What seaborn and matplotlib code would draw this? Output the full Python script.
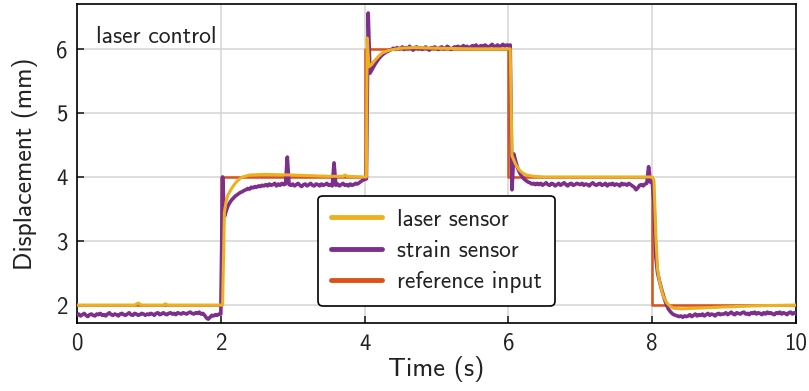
import numpy as np
import pandas as pd
import matplotlib
matplotlib.use("Agg")
import matplotlib.pyplot as plt
import seaborn as sns

# ---------------- data ----------------
reference_t = [0, 2, 2, 4, 4, 6, 6, 8, 8, 10]
reference_v = [2, 2, 4, 4, 6, 6, 4, 4, 2, 2]

laser_t = [0, 0.8, 0.85, 0.9, 1.2, 1.23, 1.26, 2.025, 2.05, 2.075, 2.1, 2.15, 2.2,
           2.25, 2.3, 2.4, 2.6, 3.0, 3.5, 3.7, 3.73, 3.76, 4.0, 4.025, 4.035, 4.06,
           4.1, 4.15, 4.2, 4.25, 4.35, 4.5, 4.7, 5.0, 5.5, 6.0, 6.025, 6.05, 6.1,
           6.15, 6.2, 6.25, 6.35, 6.5, 7.0, 7.5, 8.0, 8.025, 8.05, 8.075, 8.1, 8.15,
           8.2, 8.25, 8.3, 8.4, 8.6, 9.0, 9.5, 10.0]
laser_v = [2.0, 2.0, 2.03, 2.0, 2.0, 2.02, 2.0, 2.0, 3.45, 3.62, 3.72, 3.82, 3.90,
           3.96, 4.00, 4.03, 4.04, 4.03, 4.01, 4.01, 4.03, 4.01, 4.00, 4.00, 6.17, 5.72,
           5.76, 5.83, 5.89, 5.94, 5.98, 6.01, 6.02, 6.01, 6.00, 6.00, 6.00, 4.33, 4.20,
           4.11, 4.06, 4.03, 4.01, 4.00, 4.00, 4.00, 4.00, 3.95, 3.10, 2.55, 2.38, 2.15,
           2.04, 1.98, 1.95, 1.94, 1.95, 1.97, 1.99, 2.00]

# strain sensor sampled every 0.025 s from 0 to 10 s
strain_dt = 0.025
strain_v = [
    # 0 - 1 s
    1.84, 1.86, 1.83, 1.85, 1.87, 1.84, 1.82, 1.85, 1.86, 1.84,
    1.83, 1.86, 1.85, 1.87, 1.84, 1.85, 1.83, 1.86, 1.88, 1.85,
    1.84, 1.86, 1.85, 1.83, 1.86, 1.87, 1.85, 1.84, 1.86, 1.88,
    1.85, 1.84, 1.87, 1.86, 1.84, 1.85, 1.87, 1.86, 1.84, 1.86,
    # 1 - 2 s
    1.85, 1.87, 1.86, 1.84, 1.87, 1.88, 1.85, 1.86, 1.88, 1.86,
    1.85, 1.87, 1.88, 1.86, 1.87, 1.85, 1.88, 1.87, 1.86, 1.88,
    1.87, 1.86, 1.88, 1.89, 1.87, 1.86, 1.88, 1.87, 1.89, 1.86,
    1.87, 1.84, 1.80, 1.78, 1.81, 1.84, 1.83, 1.85, 1.84, 1.86,
    # 2 - 3 s
    1.86, 4.00, 3.38, 3.47, 3.55, 3.60, 3.64, 3.67, 3.70, 3.72,
    3.74, 3.76, 3.77, 3.79, 3.80, 3.82, 3.81, 3.84, 3.83, 3.85,
    3.84, 3.86, 3.85, 3.87, 3.86, 3.88, 3.86, 3.89, 3.87, 3.88,
    3.90, 3.86, 3.89, 3.87, 3.90, 3.88, 3.89, 4.31, 3.88, 3.87,
    # 3 - 4 s
    3.89, 3.86, 3.88, 3.90, 3.87, 3.85, 3.88, 3.89, 3.86, 3.88,
    3.90, 3.87, 3.86, 3.89, 3.88, 3.86, 3.89, 3.87, 3.88, 3.90,
    3.87, 3.88, 3.86, 4.22, 3.87, 3.89, 3.86, 3.88, 3.90, 3.87,
    3.88, 3.86, 3.89, 3.87, 3.88, 3.90, 3.89, 3.91, 3.93, 3.95,
    # 4 - 5 s
    3.96, 3.97, 6.56, 5.62, 5.67, 5.72, 5.77, 5.81, 5.85, 5.88,
    5.91, 5.93, 5.95, 5.96, 5.98, 5.99, 6.01, 5.99, 6.02, 6.00,
    6.01, 6.03, 5.99, 6.02, 6.00, 6.04, 6.01, 5.98, 6.02, 6.03,
    6.00, 6.02, 5.99, 6.01, 6.03, 6.00, 5.98, 6.02, 6.01, 6.03,
    # 5 - 6 s
    6.01, 5.99, 6.02, 6.03, 6.00, 6.01, 6.04, 6.02, 5.99, 6.01,
    6.03, 6.02, 6.04, 6.01, 6.03, 6.05, 6.02, 6.04, 6.01, 6.03,
    6.05, 6.03, 6.06, 6.02, 6.04, 6.05, 6.03, 6.06, 6.04, 6.02,
    6.05, 6.07, 6.03, 6.04, 6.06, 6.02, 6.05, 6.07, 6.04, 6.06,
    # 6 - 7 s
    6.05, 6.06, 3.80, 4.36, 4.25, 4.15, 4.08, 4.03, 3.99, 3.96,
    3.94, 3.92, 3.91, 3.89, 3.90, 3.88, 3.90, 3.88, 3.90, 3.87,
    3.89, 3.91, 3.88, 3.87, 3.90, 3.89, 3.86, 3.88, 3.90, 3.87,
    3.89, 3.91, 3.88, 3.86, 3.89, 3.90, 3.87, 3.88, 3.90, 3.89,
    # 7 - 8 s
    3.88, 3.90, 3.87, 3.89, 3.88, 3.86, 3.89, 3.91, 3.88, 3.87,
    3.89, 3.90, 3.87, 3.88, 3.90, 3.86, 3.89, 3.88, 3.90, 3.87,
    3.89, 3.88, 3.86, 3.90, 3.88, 3.89, 3.87, 3.90, 3.88, 3.86,
    3.84, 3.80, 3.83, 3.87, 3.88, 3.86, 3.89, 3.90, 4.16, 3.92,
    # 8 - 9 s
    3.92, 3.60, 2.75, 2.50, 2.38, 2.27, 2.17, 2.08, 2.00, 1.94,
    1.90, 1.87, 1.85, 1.84, 1.83, 1.82, 1.83, 1.81, 1.83, 1.82,
    1.83, 1.85, 1.82, 1.84, 1.86, 1.83, 1.85, 1.84, 1.86, 1.83,
    1.85, 1.87, 1.84, 1.86, 1.85, 1.83, 1.86, 1.87, 1.85, 1.86,
    # 9 - 10 s
    1.86, 1.88, 1.85, 1.87, 1.89, 1.86, 1.85, 1.88, 1.87, 1.86,
    1.88, 1.89, 1.86, 1.87, 1.85, 1.88, 1.87, 1.89, 1.86, 1.88,
    1.87, 1.85, 1.88, 1.86, 1.89, 1.87, 1.88, 1.86, 1.85, 1.88,
    1.87, 1.89, 1.86, 1.88, 1.87, 1.85, 1.88, 1.89, 1.86, 1.88,
    1.87,
]
strain_t = np.round(np.arange(len(strain_v)) * strain_dt, 3)

x_ticks = [0, 2, 4, 6, 8, 10]
x_ticklabels = ["0", "2", "4", "6", "8", "10"]
y_ticks = [2, 3, 4, 5, 6]
y_ticklabels = ["2", "3", "4", "5", "6"]

series_names = ["laser sensor", "strain sensor", "reference input"]
colors = {"laser sensor": "#EDB120", "strain sensor": "#7E2F8E",
          "reference input": "#D95319"}

# ---------------- style ----------------
sns.set_style("ticks")
plt.rcParams["font.family"] = ["cmss10", "DejaVu Sans"]
plt.rcParams["axes.unicode_minus"] = False

fig = plt.figure(figsize=(8.09, 3.91), dpi=100)
ax = fig.add_axes([77 / 809, 68 / 391, 719 / 809, 319 / 391])

df_ref = pd.DataFrame({"time": reference_t, "value": reference_v})
df_strain = pd.DataFrame({"time": strain_t, "value": strain_v})
df_laser = pd.DataFrame({"time": laser_t, "value": laser_v})

sns.lineplot(data=df_ref, x="time", y="value", ax=ax, estimator=None, sort=False,
             color=colors["reference input"], lw=1.8, label="reference input", zorder=3)
sns.lineplot(data=df_strain, x="time", y="value", ax=ax, estimator=None, sort=False,
             color=colors["strain sensor"], lw=2.6, label="strain sensor", zorder=4)
sns.lineplot(data=df_laser, x="time", y="value", ax=ax, estimator=None, sort=False,
             color=colors["laser sensor"], lw=2.2, label="laser sensor", zorder=5)

ax.set_xlim(0, 10)
ax.set_ylim(1.72, 6.70)
ax.set_xticks(x_ticks, labels=x_ticklabels)
ax.set_yticks(y_ticks, labels=y_ticklabels)
ax.grid(True, color="#d4d4d4", lw=1.1, zorder=0)
ax.set_axisbelow(True)
for s in ax.spines.values():
    s.set_color("black")
    s.set_linewidth(1.2)
ax.tick_params(direction="in", length=5, width=1.2, labelsize=16.5, pad=7,
               colors="#222222", top=False, right=False)

ax.set_xlabel("Time (s)", fontsize=19, labelpad=1, color="#222222")
ax.set_ylabel("Displacement (mm)", fontsize=18.5, labelpad=13, color="#222222")

ax.text(0.026, 0.93, "laser control", transform=ax.transAxes, fontsize=17,
        va="top", ha="left", color="#222222")

handles, labels = ax.get_legend_handles_labels()
order = [labels.index(n) for n in series_names]
leg = ax.legend([handles[i] for i in order], [labels[i] for i in order],
                loc="lower center", bbox_to_anchor=(0.5, 0.053), fontsize=16.8,
                frameon=True, fancybox=True, framealpha=1, edgecolor="black",
                handlelength=2.2, handletextpad=0.65, labelspacing=0.4,
                borderpad=0.55, borderaxespad=0)
leg.get_frame().set_linewidth(1.2)
for line in leg.get_lines():
    line.set_linewidth(3.5)
for t in leg.get_texts():
    t.set_color("#222222")

fig.savefig("out.png", dpi=100)
